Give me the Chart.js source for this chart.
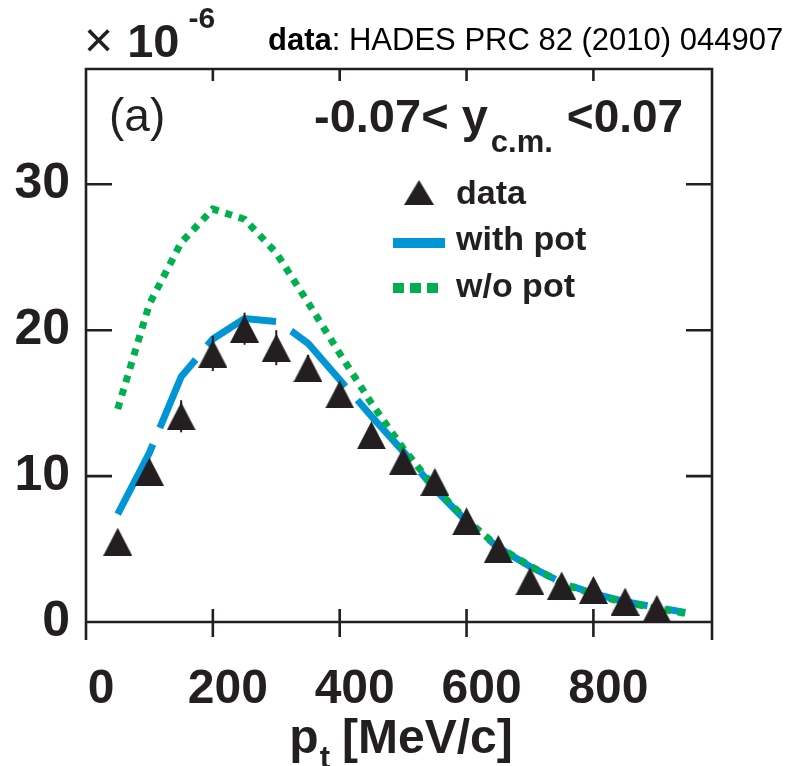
<!DOCTYPE html>
<html>
<head>
<meta charset="utf-8">
<script src="https://cdn.jsdelivr.net/npm/chart.js@4.4.1/dist/chart.umd.min.js"></script>
<style>
  html, body { margin: 0; padding: 0; background: #ffffff; }
  #wrap { width: 800px; height: 766px; position: relative; }
</style>
</head>
<body>
<div id="wrap"><canvas id="chart"></canvas></div>
<script>
// Measured transverse-momentum spectrum (units of 1e-6)
const ptData    = [50, 100, 150, 200, 250, 300, 350, 400, 450, 500, 550, 600, 650, 700, 750, 800, 850, 900];
const yieldData = [5.5, 10.3, 14.1, 18.4, 20.1, 18.8, 17.4, 15.6, 12.8, 11.0, 9.6, 6.9, 5.0, 2.8, 2.5, 2.2, 1.4, 0.9];
const yieldErr  = [0.6, 0.8, 1.1, 1.2, 1.1, 1.2, 0.9, 0.8, 0.7, 0.6, 0.5, 0.4, 0.3, 0.2, 0.2, 0.15, 0.1, 0.1];

// Transport calculation with the potential
const ptWithPot = [50, 100, 150, 200, 250, 300, 325, 350, 400, 450, 500, 550, 600, 650, 700, 750, 800, 850, 900, 945];
const withPot   = [7.4, 11.6, 16.8, 19.4, 20.8, 20.6, 19.9, 19.1, 16.6, 14.1, 11.7, 9.1, 6.9, 5.1, 3.8, 2.7, 1.95, 1.4, 1.0, 0.65];

// Transport calculation without the potential
const ptWoPot = [50, 100, 150, 200, 250, 300, 350, 400, 450, 500, 550, 600, 650, 700, 750, 800, 850, 900, 950];
const woPot   = [14.6, 21.8, 26.0, 28.3, 27.6, 25.3, 21.9, 18.4, 15.0, 11.9, 9.2, 7.0, 5.15, 3.85, 2.66, 1.89, 1.33, 0.94, 0.55];

// Axis ticks
const xTickValues = [0, 200, 400, 600, 800];
const xTickLabels = ['0', '200', '400', '600', '800'];
const yTickValues = [0, 10, 20, 30];
const yTickLabels = ['0', '10', '20', '30'];

const INK = '#231f20';
const BLUE = '#0096d6';
const GREEN = '#00b04f';
const FONT = '"Liberation Sans", Arial, Helvetica, sans-serif';

// Filled triangle marker used for the data points and the legend
function makeTriangle(w, h) {
  const c = document.createElement('canvas');
  c.width = w; c.height = h;
  const g = c.getContext('2d');
  g.fillStyle = INK;
  g.beginPath();
  g.moveTo(w / 2, 0);
  g.lineTo(w, h);
  g.lineTo(0, h);
  g.closePath();
  g.fill();
  return c;
}
const triangle = makeTriangle(29, 28);

const pairs = (xs, ys) => xs.map((x, i) => ({ x, y: ys[i] }));

// Vertical error bars for the measured points
const errorBars = {
  id: 'errorBars',
  afterDatasetsDraw(chart) {
    const meta = chart.getDatasetMeta(0);
    const ys = chart.scales.y;
    const ctx = chart.ctx;
    ctx.save();
    ctx.strokeStyle = INK;
    ctx.lineWidth = 2;
    meta.data.forEach((pt, i) => {
      const v = yieldData[i], e = yieldErr[i];
      ctx.beginPath();
      ctx.moveTo(pt.x, ys.getPixelForValue(v + e));
      ctx.lineTo(pt.x, ys.getPixelForValue(v - e));
      ctx.stroke();
    });
    ctx.restore();
  }
};

// Closed frame with inward ticks on all four sides
const frame = {
  id: 'frame',
  afterDraw(chart) {
    const { ctx, chartArea: a, scales: { x, y } } = chart;
    ctx.save();
    ctx.strokeStyle = INK;
    ctx.lineWidth = 2.6;
    ctx.lineCap = 'butt';
    ctx.beginPath();
    ctx.moveTo(a.left, a.bottom + 18);
    ctx.lineTo(a.left, a.top);
    ctx.lineTo(a.right, a.top);
    ctx.lineTo(a.right, a.bottom + 18);
    ctx.moveTo(a.left, a.bottom);
    ctx.lineTo(a.right, a.bottom);
    yTickValues.forEach(v => {
      const py = y.getPixelForValue(v);
      ctx.moveTo(a.left, py); ctx.lineTo(a.left + 26, py);
      ctx.moveTo(a.right - 26, py); ctx.lineTo(a.right, py);
    });
    xTickValues.forEach(v => {
      if (v === 0) return;
      const px = x.getPixelForValue(v);
      ctx.moveTo(px, a.bottom - 13); ctx.lineTo(px, a.bottom + 15);
      ctx.moveTo(px, a.top); ctx.lineTo(px, a.top + 12);
    });
    ctx.stroke();
    ctx.restore();
  }
};

// Draw a sequence of text runs with their own fonts and baseline shifts
function drawRuns(ctx, x, base, runs, color) {
  ctx.fillStyle = color || INK;
  ctx.textBaseline = 'alphabetic';
  ctx.textAlign = 'left';
  let cx = x;
  runs.forEach(r => {
    ctx.font = r.font;
    ctx.fillText(r.text, cx, base + (r.dy || 0));
    cx += ctx.measureText(r.text).width + (r.gap || 0);
  });
  return cx;
}
function runsWidth(ctx, runs) {
  let w = 0;
  runs.forEach(r => { ctx.font = r.font; w += ctx.measureText(r.text).width + (r.gap || 0); });
  return w;
}

// Annotations: exponent, source note, panel label, rapidity window, legend, axis title
const annotations = {
  id: 'annotations',
  afterDraw(chart) {
    const ctx = chart.ctx;
    ctx.save();

    // x 10^-6 multiplier
    drawRuns(ctx, 84, 57, [
      { text: '\u00d7', font: `200 50px ${FONT}`, gap: 14 },
      { text: '10', font: `bold 47px ${FONT}`, gap: 9 },
      { text: '-6', font: `bold 30px ${FONT}`, dy: -29 }
    ]);

    // source note
    drawRuns(ctx, 268, 50, [
      { text: 'data', font: `bold 31px ${FONT}` },
      { text: ': HADES PRC 82 (2010) 044907', font: `31px ${FONT}` }
    ], '#000000');

    // panel label
    drawRuns(ctx, 109, 131, [{ text: '(a)', font: `46px ${FONT}` }]);

    // rapidity window
    drawRuns(ctx, 314, 132, [
      { text: '-0.07< y', font: `bold 47px ${FONT}`, gap: 3 },
      { text: 'c.m.', font: `bold 31px ${FONT}`, dy: 20, gap: 14 },
      { text: '<0.07', font: `bold 46px ${FONT}` }
    ]);

    // legend
    const ds = chart.data.datasets;
    ctx.drawImage(triangle, 404, 180, 30, 25);
    drawRuns(ctx, 456, 204, [{ text: ds[0].label, font: `bold 34px ${FONT}` }]);

    ctx.strokeStyle = BLUE;
    ctx.lineWidth = 10;
    ctx.beginPath(); ctx.moveTo(393, 243); ctx.lineTo(445, 243); ctx.stroke();
    drawRuns(ctx, 456, 250, [{ text: ds[1].label, font: `bold 34px ${FONT}` }]);

    ctx.strokeStyle = GREEN;
    ctx.setLineDash([11, 6]);
    ctx.beginPath(); ctx.moveTo(393, 288); ctx.lineTo(440, 288); ctx.stroke();
    ctx.setLineDash([]);
    drawRuns(ctx, 456, 297, [{ text: ds[2].label, font: `bold 34px ${FONT}` }]);

    // x-axis title with subscript
    const title = [
      { text: 'p', font: `bold 48px ${FONT}`, gap: 1 },
      { text: 't', font: `bold 31px ${FONT}`, dy: 15, gap: 12 },
      { text: '[MeV/c]', font: `bold 48px ${FONT}` }
    ];
    const a = chart.chartArea;
    const w = runsWidth(ctx, title);
    drawRuns(ctx, (a.left + a.right) / 2 - w / 2 + 2, 753, title);

    ctx.restore();
  }
};

new Chart(document.getElementById('chart'), {
  type: 'scatter',
  data: {
    datasets: [
      {
        label: 'data',
        data: pairs(ptData, yieldData),
        pointStyle: triangle,
        pointRadius: 14,
        pointHoverRadius: 14,
        order: 0
      },
      {
        label: 'with pot',
        data: pairs(ptWithPot, withPot),
        showLine: true,
        borderColor: BLUE,
        borderWidth: 7,
        borderDash: [78, 18],
        pointRadius: 0,
        tension: 0,
        order: 2
      },
      {
        label: 'w/o pot',
        data: pairs(ptWoPot, woPot),
        showLine: true,
        borderColor: GREEN,
        borderWidth: 7,
        borderDash: [7, 7],
        pointRadius: 0,
        tension: 0,
        order: 1
      }
    ]
  },
  options: {
    responsive: true,
    maintainAspectRatio: false,
    animation: false,
    devicePixelRatio: 1,
    layout: { padding: { top: 69, right: 88, left: 0, bottom: 0 } },
    plugins: { legend: { display: false }, tooltip: { enabled: false } },
    scales: {
      x: {
        type: 'linear',
        min: 0,
        max: 987,
        afterBuildTicks: s => { s.ticks = xTickValues.map(v => ({ value: v })); },
        afterFit: s => { s.height = 144; },
        grid: { display: false, drawTicks: false },
        border: { display: false },
        ticks: {
          callback: (v, i) => xTickLabels[i],
          font: { family: FONT, size: 48, weight: 'bold' },
          color: INK,
          padding: 39,
          labelOffset: 15,
          maxRotation: 0,
          autoSkip: false
        }
      },
      y: {
        type: 'linear',
        min: 0,
        max: 37.9,
        afterBuildTicks: s => { s.ticks = yTickValues.map(v => ({ value: v })); },
        afterFit: s => { s.width = 86; },
        grid: { display: false, drawTicks: false },
        border: { display: false },
        ticks: {
          callback: (v, i) => yTickLabels[i],
          font: { family: FONT, size: 50, weight: 'bold' },
          color: INK,
          padding: 16,
          autoSkip: false
        }
      }
    }
  },
  plugins: [errorBars, frame, annotations]
});
</script>
</body>
</html>
